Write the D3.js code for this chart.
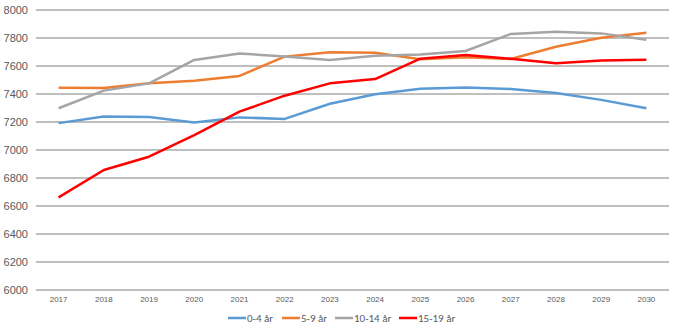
<!DOCTYPE html>
<html><head><meta charset="utf-8">
<script src="https://cdn.jsdelivr.net/npm/d3@7"></script>
<style>body{margin:0;background:#fff;}svg{display:block;font-family:Calibri,"Liberation Sans","Open Sans",sans-serif;}</style>
</head><body>
<svg id="c" width="679" height="333"></svg>
<script>
const years = ["2017","2018","2019","2020","2021","2022","2023","2024","2025","2026","2027","2028","2029","2030"];
const yTicks = [6000,6200,6400,6600,6800,7000,7200,7400,7600,7800,8000];
const seriesNames = ["0-4 år","5-9 år","10-14 år","15-19 år"];
const seriesColors = ["#5B9BD5","#ED7D31","#A5A5A5","#FF0000"];
const s0_4   = [7192,7240,7235,7196,7233,7222,7330,7398,7437,7447,7436,7407,7358,7298];
const s5_9   = [7445,7443,7476,7495,7529,7667,7698,7694,7648,7662,7650,7738,7802,7838];
const s10_14 = [7298,7424,7476,7643,7690,7667,7643,7674,7683,7707,7829,7845,7833,7788];
const s15_19 = [6662,6857,6952,7107,7274,7388,7476,7507,7652,7679,7652,7619,7640,7645];
const seriesData = [s0_4,s5_9,s10_14,s15_19];

const svg = d3.select("#c");
const x = d3.scaleBand().domain(years).range([36,669]);
const y = d3.scaleLinear().domain([6000,8000]).range([290,10]);

const grid = svg.append("g");
yTicks.forEach(t=>{
  grid.append("line").attr("x1",36).attr("x2",669).attr("y1",y(t)).attr("y2",y(t))
    .attr("stroke","#BFBFBF").attr("stroke-width",2);
});
const yAxis = svg.append("g").attr("transform","translate(28,0)")
  .call(d3.axisLeft(y).tickValues(yTicks).tickSize(0).tickPadding(0).tickFormat(d3.format("d")));
yAxis.select(".domain").remove();
yAxis.selectAll("text").attr("fill","#595959").attr("font-size","11px");

const xAxis = svg.append("g").attr("transform","translate(0,296)")
  .call(d3.axisBottom(x).tickSize(0).tickPadding(0));
xAxis.select(".domain").remove();
xAxis.selectAll("text").attr("fill","#595959").attr("font-size","8px");

const line = d3.line().x((d,i)=>x(years[i])+x.bandwidth()/2).y(d=>y(d));
seriesData.forEach((s,k)=>{
  svg.append("path").datum(s).attr("d",line).attr("fill","none")
    .attr("stroke",seriesColors[k]).attr("stroke-width",2.5).attr("stroke-linejoin","round");
});

const legX = [228,282,335,399];
const lg = svg.append("g");
seriesNames.forEach((n,k)=>{
  lg.append("line").attr("x1",legX[k]).attr("x2",legX[k]+18).attr("y1",318).attr("y2",318)
    .attr("stroke",seriesColors[k]).attr("stroke-width",2.5);
  lg.append("text").attr("x",legX[k]+19).attr("y",322).attr("font-size","11px").attr("fill","#595959").text(n);
});
</script>
</body></html>
